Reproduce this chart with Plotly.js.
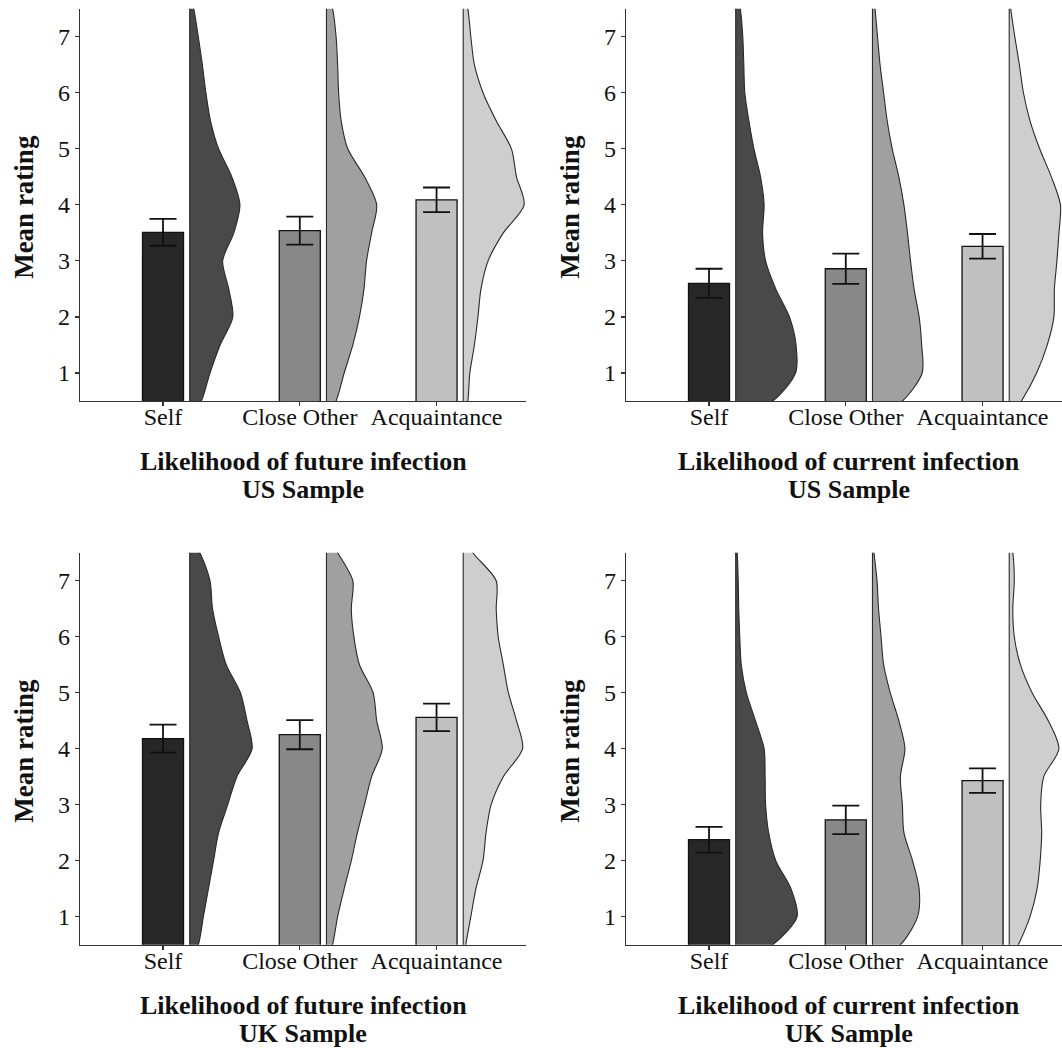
<!DOCTYPE html>
<html>
<head>
<meta charset="utf-8">
<script src="https://cdn.plot.ly/plotly-3.0.1.min.js"></script>
<style>
html,body{margin:0;padding:0;background:#fff;overflow:hidden;width:1062px;height:1048px;}
#chart{width:1072px;height:1048px;}
</style>
</head>
<body>
<div id="chart"></div>
<script>
// ---------- DATA ----------
const categories = ['Self', 'Close Other', 'Acquaintance'];
const yTicks = [1, 2, 3, 4, 5, 6, 7];

const titleFutureUS = ['Likelihood of future infection', 'US Sample'];
const titleCurrentUS = ['Likelihood of current infection', 'US Sample'];
const titleFutureUK = ['Likelihood of future infection', 'UK Sample'];
const titleCurrentUK = ['Likelihood of current infection', 'UK Sample'];

const meanFutureUS = [3.51, 3.54, 4.09];
const seFutureUS = [0.24, 0.25, 0.22];
const meanCurrentUS = [2.60, 2.86, 3.26];
const seCurrentUS = [0.26, 0.27, 0.22];
const meanFutureUK = [4.18, 4.25, 4.56];
const seFutureUK = [0.25, 0.26, 0.245];
const meanCurrentUK = [2.375, 2.73, 3.43];
const seCurrentUK = [0.23, 0.255, 0.22];

// density grid (rating values) and estimated relative densities
const densityGrid = [0.5, 1, 1.5, 2, 2.5, 3, 3.5, 4, 4.5, 5, 5.5, 6, 6.5, 7, 7.5];

const densFutureUS_Self = [0.23, 0.40, 0.60, 0.85, 0.77, 0.65, 0.87, 0.99, 0.83, 0.57, 0.41, 0.32, 0.25, 0.17, 0.08];
const densFutureUS_Close = [0.19, 0.35, 0.52, 0.65, 0.74, 0.79, 0.89, 0.99, 0.75, 0.42, 0.29, 0.24, 0.22, 0.19, 0.12];
const densFutureUS_Acq = [0.09, 0.13, 0.22, 0.29, 0.35, 0.49, 0.79, 1.20, 1.05, 0.95, 0.65, 0.39, 0.22, 0.15, 0.09];

const densCurrentUS_Self = [0.73, 1.18, 1.19, 1.06, 0.79, 0.59, 0.53, 0.56, 0.49, 0.36, 0.26, 0.18, 0.16, 0.14, 0.09];
const densCurrentUS_Close = [0.59, 0.98, 0.97, 0.92, 0.82, 0.75, 0.69, 0.62, 0.52, 0.39, 0.29, 0.22, 0.15, 0.10, 0.05];
const densCurrentUS_Acq = [0.24, 0.54, 0.75, 0.88, 0.89, 0.94, 0.98, 1.01, 0.83, 0.60, 0.41, 0.28, 0.20, 0.11, 0.03];

const densFutureUK_Self = [0.17, 0.27, 0.37, 0.47, 0.57, 0.75, 0.93, 1.23, 1.13, 1.00, 0.72, 0.57, 0.45, 0.40, 0.20];
const densFutureUK_Close = [0.12, 0.22, 0.35, 0.49, 0.61, 0.75, 0.89, 1.10, 0.99, 0.92, 0.65, 0.54, 0.49, 0.52, 0.22];
const densFutureUK_Acq = [0.05, 0.15, 0.25, 0.39, 0.45, 0.55, 0.79, 1.17, 1.05, 0.89, 0.79, 0.69, 0.65, 0.65, 0.19];

const densCurrentUK_Self = [0.73, 1.21, 1.09, 0.79, 0.65, 0.59, 0.58, 0.56, 0.39, 0.21, 0.11, 0.08, 0.06, 0.05, 0.03];
const densCurrentUK_Close = [0.55, 0.89, 0.92, 0.79, 0.62, 0.59, 0.55, 0.64, 0.52, 0.35, 0.22, 0.17, 0.12, 0.09, 0.03];
const densCurrentUK_Acq = [0.18, 0.41, 0.55, 0.61, 0.64, 0.62, 0.68, 0.98, 0.77, 0.45, 0.22, 0.10, 0.07, 0.10, 0.07];

// ---------- STYLE ----------
const barColors = ['#272727', '#888888', '#c0c0c0'];
const violinColors = ['#494949', '#a0a0a0', '#cecece'];
const W = 1072, H = 1048;
const serif = '"Liberation Serif", "Times New Roman", serif';
const violinOffset = 0.195;
const violinScale = 0.371;

const panels = [
  {mean: meanFutureUS, se: seFutureUS, dens: [densFutureUS_Self, densFutureUS_Close, densFutureUS_Acq], title: titleFutureUS,
   x0: 80, x1: 526, top: 8.7, bottom: 401},
  {mean: meanCurrentUS, se: seCurrentUS, dens: [densCurrentUS_Self, densCurrentUS_Close, densCurrentUS_Acq], title: titleCurrentUS,
   x0: 626, x1: 1072, top: 8.7, bottom: 401},
  {mean: meanFutureUK, se: seFutureUK, dens: [densFutureUK_Self, densFutureUK_Close, densFutureUK_Acq], title: titleFutureUK,
   x0: 80, x1: 526, top: 552.7, bottom: 944.7},
  {mean: meanCurrentUK, se: seCurrentUK, dens: [densCurrentUK_Self, densCurrentUK_Close, densCurrentUK_Acq], title: titleCurrentUK,
   x0: 626, x1: 1072, top: 552.7, bottom: 944.7}
];

const traces = [];
const layout = {
  width: W, height: H,
  margin: {l: 0, r: 0, t: 0, b: 0},
  paper_bgcolor: '#fff', plot_bgcolor: '#fff',
  showlegend: false,
  annotations: []
};

const xPos = categories.map((c, i) => i + 1);

panels.forEach((p, k) => {
  const n = k + 1;
  const xa = 'x' + (n === 1 ? '' : n), ya = 'y' + (n === 1 ? '' : n);
  const xKey = 'xaxis' + (n === 1 ? '' : n), yKey = 'yaxis' + (n === 1 ? '' : n);

  // bars with error bars
  traces.push({
    type: 'bar', x: xPos, y: p.mean, width: 0.3,
    marker: {color: barColors, line: {color: '#111', width: 1.3}},
    error_y: {type: 'data', array: p.se, visible: true, color: '#111', thickness: 1.8, width: 13.5},
    xaxis: xa, yaxis: ya, hoverinfo: 'skip'
  });

  // half violins: filled spline outline + straight base line
  p.dens.forEach((d, i) => {
    const base = xPos[i] + violinOffset;
    const lo = densityGrid[0] - 0.3, hi = densityGrid[densityGrid.length - 1] + 0.3;
    const vx = [base], vy = [lo];
    densityGrid.forEach((g, j) => { vx.push(base + d[j] * violinScale); vy.push(g); });
    vx.push(base); vy.push(hi);
    traces.push({
      type: 'scatter', mode: 'lines', x: vx, y: vy, fill: 'toself',
      fillcolor: violinColors[i],
      line: {color: '#2a2a2a', width: 1.1, shape: 'spline', smoothing: 0.8},
      xaxis: xa, yaxis: ya, hoverinfo: 'skip'
    });
    traces.push({
      type: 'scatter', mode: 'lines', x: [base, base], y: [lo, hi],
      line: {color: '#2a2a2a', width: 1.1},
      xaxis: xa, yaxis: ya, hoverinfo: 'skip'
    });
  });

  layout[xKey] = {
    domain: [p.x0 / W, p.x1 / W], anchor: ya,
    range: [0.393, 3.654], tickvals: xPos, ticktext: categories,
    showline: true, linecolor: '#333', linewidth: 1.3,
    ticks: 'outside', ticklen: 4, tickcolor: '#333', tickwidth: 1.2,
    ticklabelstandoff: -10,
    showgrid: false, zeroline: false, fixedrange: true,
    tickfont: {family: serif, size: 24, color: '#111'}
  };
  layout[yKey] = {
    domain: [1 - p.bottom / H, 1 - p.top / H], anchor: xa,
    range: [0.5, 7.5], tickvals: yTicks,
    showline: true, linecolor: '#333', linewidth: 1.3,
    ticks: 'outside', ticklen: 4, tickcolor: '#333', tickwidth: 1.2,
    showgrid: false, zeroline: false, fixedrange: true,
    tickfont: {family: serif, size: 24, color: '#111'}
  };

  const cx = (p.x0 + p.x1) / 2 / W;
  layout.annotations.push({
    xref: 'paper', yref: 'paper', x: cx, y: 1 - (p.bottom + 60.7) / H,
    xanchor: 'center', yanchor: 'middle', showarrow: false,
    text: '<b>' + p.title[0] + '</b>', font: {family: serif, size: 26, color: '#111'}
  });
  layout.annotations.push({
    xref: 'paper', yref: 'paper', x: cx, y: 1 - (p.bottom + 88.5) / H,
    xanchor: 'center', yanchor: 'middle', showarrow: false,
    text: '<b>' + p.title[1] + '</b>', font: {family: serif, size: 26, color: '#111'}
  });
  layout.annotations.push({
    xref: 'paper', yref: 'paper', x: (p.x0 - 55.5) / W, y: 1 - ((p.top + p.bottom) / 2 + 2.5) / H,
    xanchor: 'center', yanchor: 'middle', showarrow: false, textangle: -90,
    text: '<b>Mean rating</b>', font: {family: serif, size: 27, color: '#111'}
  });
});

Plotly.newPlot('chart', traces, layout, {displayModeBar: false, staticPlot: true});
</script>
</body>
</html>
